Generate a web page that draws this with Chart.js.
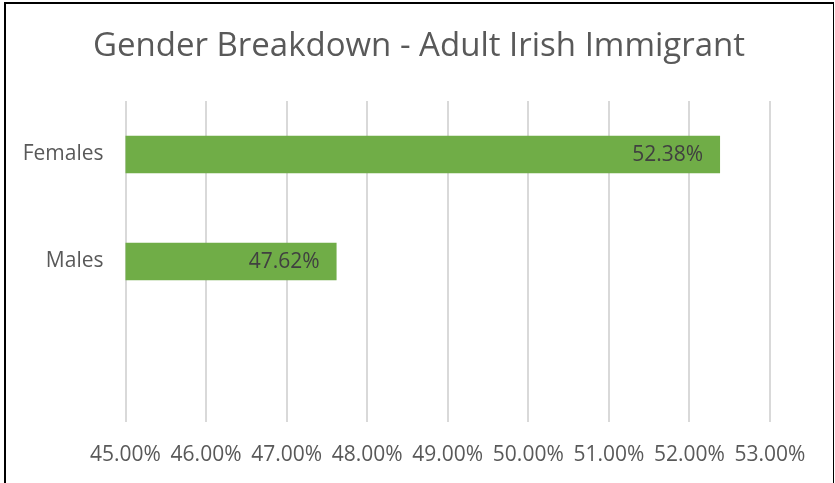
<!DOCTYPE html>
<html>
<head>
<meta charset="utf-8">
<script src="https://cdn.jsdelivr.net/npm/chart.js@4.4.1/dist/chart.umd.min.js"></script>
<style>
  html, body { margin: 0; padding: 0; background: #fff; }
  #wrap { position: relative; width: 835px; height: 483px; overflow: hidden; }
  #frame {
    position: absolute; left: 4px; top: 2px; width: 827px; height: 500px;
    border-left: 2px solid #000; border-top: 2px solid #000; border-right: 1px solid #000;
    pointer-events: none;
  }
</style>
</head>
<body>
<div id="wrap">
  <canvas id="chart" width="835" height="483"></canvas>
  <div id="frame"></div>
</div>
<script>
// datos
const categorias = ['Females', 'Males', ''];
const porcentajes = [52.38, 47.62, null];
const ejeMin = 45;
const ejeMax = 53;
const titulo = 'Gender Breakdown - Adult Irish Immigrant';

const FUENTE = "'Open Sans', 'DejaVu Sans', sans-serif";

// título centrado en todo el lienzo (no sólo en el área del gráfico)
const tituloCentrado = {
  id: 'tituloCentrado',
  afterDraw(chart) {
    const ctx = chart.ctx;
    ctx.save();
    ctx.font = '33px ' + FUENTE;
    ctx.fillStyle = '#595959';
    ctx.textAlign = 'center';
    ctx.textBaseline = 'middle';
    ctx.fillText(titulo, 419, 47);
    ctx.restore();
  }
};

// etiquetas de datos dentro del extremo de la barra
const etiquetasBarras = {
  id: 'etiquetasBarras',
  afterDatasetsDraw(chart) {
    const ctx = chart.ctx;
    const meta = chart.getDatasetMeta(0);
    ctx.save();
    ctx.font = '21px ' + FUENTE;
    ctx.fillStyle = '#404040';
    ctx.textAlign = 'right';
    ctx.textBaseline = 'middle';
    meta.data.forEach((bar, i) => {
      const v = porcentajes[i];
      if (v == null) return;
      ctx.fillText(v.toFixed(2) + '%', bar.x - 17, bar.y + 1);
    });
    ctx.restore();
  }
};

new Chart(document.getElementById('chart'), {
  type: 'bar',
  data: {
    labels: categorias,
    datasets: [{
      data: porcentajes,
      backgroundColor: '#70AD47',
      barPercentage: 0.7,
      categoryPercentage: 0.5
    }]
  },
  options: {
    indexAxis: 'y',
    responsive: false,
    animation: false,
    layout: { padding: { left: 0, right: 65, top: 101, bottom: 0 } },
    scales: {
      x: {
        min: ejeMin,
        max: ejeMax,
        ticks: {
          stepSize: 1,
          padding: 20,
          color: '#595959',
          font: { family: FUENTE, size: 21 },
          callback: v => Number(v).toFixed(2) + '%'
        },
        grid: { color: '#d9d9d9', lineWidth: 2, drawTicks: false },
        border: { display: false },
        afterFit(s) { s.height = 61; }
      },
      y: {
        ticks: {
          padding: 22,
          color: '#595959',
          font: { family: FUENTE, size: 21 }
        },
        grid: { display: false, drawTicks: false },
        border: { display: false },
        afterFit(s) { s.width = 125.5; }
      }
    },
    plugins: {
      legend: { display: false },
      tooltip: { enabled: false },
      title: { display: false }
    }
  },
  plugins: [etiquetasBarras, tituloCentrado]
});
</script>
</body>
</html>
